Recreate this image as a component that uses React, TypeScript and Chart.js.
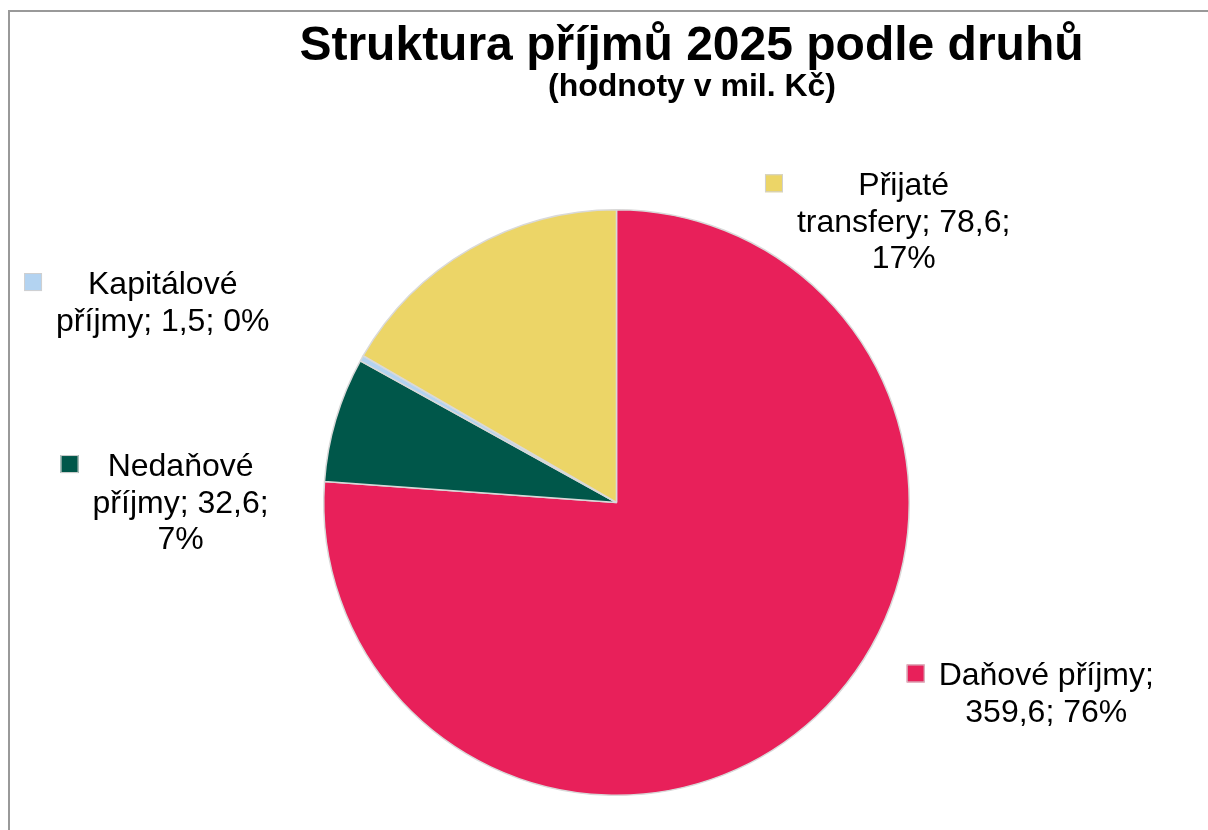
import React, { useEffect, useRef } from "react";
import { Chart, registerables } from "chart.js";

Chart.register(...registerables);

const TITLE = "Struktura příjmů 2025 podle druhů";
const SUBTITLE = "(hodnoty v mil. Kč)";
const categories = ["Daňové příjmy", "Nedaňové příjmy", "Kapitálové příjmy", "Přijaté transfery"];
const values = [359.6, 32.6, 1.5, 78.6];
const colors = ["#E8205A", "#00574A", "#B3D3F1", "#ECD567"];

// label block centre relative to pie centre, in units of the pie radius
const labelOffsets: [number, number][] = [
  [1.468, 0.648],
  [-1.489, -0.005],
  [-1.55, -0.689],
  [0.981, -0.964],
];

const FONT = '"Liberation Sans", Arial, sans-serif';

function wrap(ctx: CanvasRenderingContext2D, text: string, maxW: number): string[] {
  const words = text.split(" ");
  const lines: string[] = [];
  let cur = "";
  for (const w of words) {
    const test = cur ? cur + " " + w : w;
    if (cur && ctx.measureText(test).width > maxW) {
      lines.push(cur);
      cur = w;
    } else {
      cur = test;
    }
  }
  if (cur) lines.push(cur);
  return lines;
}

const titlePlugin = {
  id: "customTitles",
  afterDraw(chart: any) {
    const ctx = chart.ctx as CanvasRenderingContext2D;
    ctx.save();
    ctx.fillStyle = "#000";
    ctx.textAlign = "center";
    ctx.textBaseline = "alphabetic";
    const cx = chart.width / 2;
    ctx.font = `bold 48px ${FONT}`;
    ctx.fillText(TITLE, cx, 48);
    ctx.font = `bold 32px ${FONT}`;
    ctx.fillText(SUBTITLE, cx + 0.5, 84);
    ctx.restore();
  },
};

const labelPlugin = {
  id: "pieLabels",
  afterDatasetsDraw(chart: any) {
    const ctx = chart.ctx as CanvasRenderingContext2D;
    const meta = chart.getDatasetMeta(0);
    const total = values.reduce((a, b) => a + b, 0);
    ctx.save();
    ctx.font = `32px ${FONT}`;
    ctx.textAlign = "center";
    ctx.textBaseline = "alphabetic";
    meta.data.forEach((arc: any, i: number) => {
      const { x, y, outerRadius } = arc.getProps(["x", "y", "outerRadius"], true);
      const pct = Math.round((values[i] / total) * 100);
      const text = `${categories[i]}; ${values[i].toFixed(1).replace(".", ",")}; ${pct}%`;
      const lines = wrap(ctx, text, 220);
      const cx = x + labelOffsets[i][0] * outerRadius;
      const cy = y + labelOffsets[i][1] * outerRadius;
      const lh = 36.5;
      const b1 = cy - ((lines.length - 1) * lh) / 2 + 11.5;
      let maxW = 0;
      ctx.fillStyle = "#000";
      lines.forEach((ln, k) => {
        maxW = Math.max(maxW, ctx.measureText(ln).width);
        ctx.fillText(ln, cx, b1 + k * lh);
      });
      const left = cx - maxW / 2;
      const sq = 18;
      const sx = left - 14 - sq;
      const sy = b1 - 21;
      ctx.fillStyle = colors[i];
      ctx.fillRect(sx, sy, sq, sq);
      ctx.strokeStyle = "#d0d0d0";
      ctx.lineWidth = 1;
      ctx.strokeRect(sx + 0.5, sy + 0.5, sq - 1, sq - 1);
    });
    ctx.restore();
  },
};

export default function App() {
  const ref = useRef<HTMLCanvasElement | null>(null);

  useEffect(() => {
    document.body.style.overflow = "hidden";
    if (!ref.current) return;
    const chart = new Chart(ref.current, {
      type: "pie",
      data: {
        labels: categories,
        datasets: [
          {
            data: values,
            backgroundColor: colors,
            borderColor: "#d9d9d9",
            borderWidth: 1.5,
          },
        ],
      },
      options: {
        responsive: false,
        animation: false,
        layout: { padding: { left: 0, right: 150, top: 197, bottom: 34 } },
        plugins: {
          legend: { display: false },
          tooltip: { enabled: false },
          title: { display: false },
        },
      },
      plugins: [labelPlugin, titlePlugin],
    });
    return () => chart.destroy();
  }, []);

  return (
    <div
      style={{
        position: "absolute",
        left: 8,
        top: 10,
        width: 1200,
        height: 820,
        borderLeft: "2px solid #999",
        borderTop: "2px solid #999",
        boxSizing: "border-box",
        overflow: "hidden",
        background: "#fff",
      }}
    >
      <canvas ref={ref} width={1363} height={818} style={{ display: "block" }} />
    </div>
  );
}
